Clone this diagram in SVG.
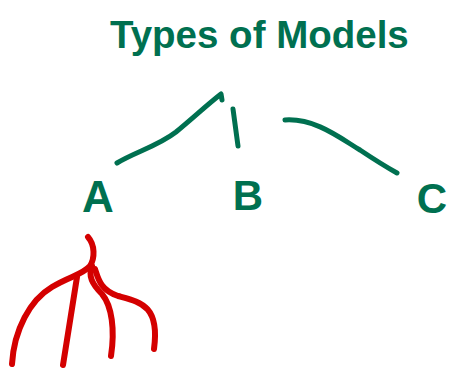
<svg xmlns="http://www.w3.org/2000/svg" width="449" height="369" viewBox="0 0 449 369">
<style>
.g{fill:none;stroke:#007050;stroke-width:5;stroke-linecap:round;stroke-linejoin:round}
.r{fill:none;stroke:#d40000;stroke-width:6;stroke-linecap:round;stroke-linejoin:round}
.t{fill:#007050;font-family:"Liberation Sans",Arial,sans-serif;font-weight:bold}
</style>
<rect width="449" height="369" fill="#fff"/>
<g id="title"><text class="t" x="110" y="48" font-size="38.5">Types of Models</text></g>
<g id="connectors">
<path class="g" d="M117,163 C135,152 158,146 176,132 C193,118 208,104 221,94 L222,100"/>
<path class="g" d="M233,109 L238,146"/>
<path class="g" d="M285,120 C315,118 340,138 360,150 C375,160 388,168 397,173"/>
</g>
<g id="nodeA"><text class="t" x="98" y="212" font-size="44" text-anchor="middle">A</text></g>
<g id="nodeB"><text class="t" x="248" y="210" font-size="42" text-anchor="middle">B</text></g>
<g id="nodeC"><text class="t" x="432" y="213" font-size="42" text-anchor="middle">C</text></g>
<g id="tree">
<path class="r" d="M88,237 C95,245 95,258 90,266 C82,275 70,276 52,287 C30,300 14,330 12,364"/>
<path class="r" d="M77,277 L63,365"/>
<path class="r" d="M92,266 C88,276 92,284 102,294 C112,306 115,330 111,356"/>
<path class="r" d="M95,269 C98,278 100,290 118,296 C140,302 160,305 154,349"/>
</g>
</svg>
